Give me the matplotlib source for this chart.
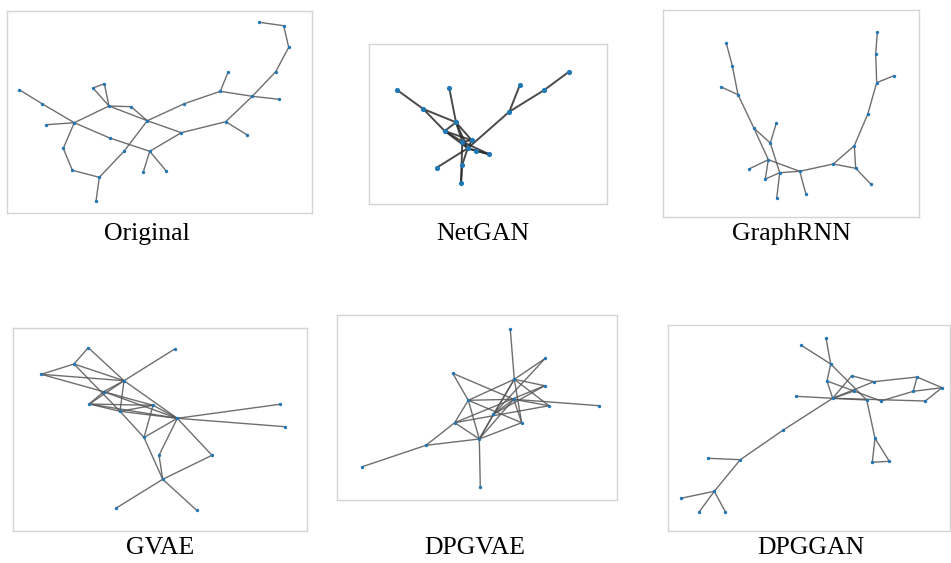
import matplotlib
matplotlib.use("Agg")
import matplotlib.pyplot as plt
from matplotlib.collections import LineCollection

# node positions (image pixel coords) and edge lists
original_nodes = [(259.3, 22.3), (283.7, 25.7), (288.7, 47.3), (275.7, 71.7), (252.3, 96.3),
                  (279, 99.3), (228, 72.3), (220.3, 91.3), (225.7, 121.7), (247.3, 135),
                  (184.3, 103.7), (181.3, 132.7), (147.3, 120.7), (149.7, 151.3), (143.3, 172),
                  (166, 170.7), (124, 151.3), (99.3, 177.3), (96, 201.3), (72.3, 170.3),
                  (63.3, 148.3), (74.3, 122.7), (46.3, 124.7), (42, 103.7), (19.3, 89.7),
                  (109.7, 138), (109, 106), (131, 106.7), (93, 88), (104.3, 83.7)]
original_edges = [(0, 1), (1, 2), (2, 3), (3, 4), (4, 8), (6, 7), (7, 4), (4, 5), (8, 9), (8, 11),
                  (11, 13), (13, 14), (13, 15), (7, 10), (10, 12), (12, 16), (16, 17), (17, 18),
                  (17, 19), (19, 20), (20, 21), (21, 22), (21, 23), (23, 24), (21, 25), (25, 13),
                  (21, 26), (26, 27), (27, 12), (26, 12), (12, 11), (28, 29), (28, 26), (29, 26)]

netgan_nodes = [(396.7, 89.7), (423.3, 109), (449.3, 88.3), (456, 122.3), (444.7, 131),
                (462.3, 141.7), (471.7, 140.3), (467.7, 148.3), (475.7, 150.7), (489.3, 154.3),
                (436.7, 167.7), (462.3, 164.7), (461, 182.7), (509.3, 111.7), (520, 84.7),
                (544.3, 90), (569, 71.7)]
netgan_edges = [(0, 1), (1, 3), (1, 4), (2, 3), (3, 4), (3, 5), (3, 6), (3, 7), (4, 5), (4, 7),
                (4, 6), (5, 6), (5, 7), (6, 7), (7, 8), (8, 9), (7, 9), (5, 9), (10, 7), (11, 7),
                (11, 12), (12, 5), (13, 7), (13, 14), (13, 15), (15, 16)]

graphrnn_nodes = [(726.3, 43.3), (732.3, 65.7), (721.3, 87), (738, 94.7), (754, 128.3),
                  (776.3, 123.3), (770.3, 143), (768.3, 159.7), (749, 169), (765.3, 179),
                  (779.7, 172.7), (776.7, 198.3), (799.7, 171.3), (806, 194.3), (833.3, 164),
                  (854.3, 145.7), (855.7, 168.3), (870.7, 184), (867.7, 114.3), (876.7, 82.7),
                  (894, 75.7), (875.7, 54), (877.3, 32)]
graphrnn_edges = [(0, 1), (1, 3), (2, 3), (3, 4), (4, 6), (4, 7), (5, 6), (6, 10), (7, 8), (7, 9),
                  (7, 12), (9, 10), (10, 12), (10, 11), (12, 13), (12, 14), (14, 15), (14, 16),
                  (15, 16), (16, 17), (15, 18), (18, 19), (19, 20), (19, 21), (21, 22)]

gvae_nodes = [(88.3, 347.7), (74, 364), (41.3, 374.3), (124, 380.7), (174.7, 349),
              (103.7, 391.7), (89.3, 404), (120, 411.3), (153, 405.3), (177.3, 418.3),
              (279.7, 404.3), (285, 426.7), (144, 437.5), (159, 455.3), (212, 455.3),
              (162.7, 479.3), (116.3, 508), (196.7, 510.3)]
gvae_edges = [(0, 1), (0, 3), (1, 2), (1, 3), (1, 7), (7, 12), (2, 3), (2, 5), (5, 8), (5, 9),
              (3, 4), (3, 5), (3, 6), (3, 7), (3, 9), (6, 8), (6, 9), (6, 7), (7, 8), (7, 9),
              (8, 9), (8, 12), (9, 12), (5, 6), (9, 10), (9, 11), (9, 14), (9, 13), (13, 15),
              (12, 15), (14, 15), (15, 16), (15, 17)]

dpgvae_nodes = [(510.3, 329.3), (545.3, 358.3), (452.7, 373.3), (514.3, 379.3), (544.7, 385.7),
                (513.7, 399.3), (549, 405.7), (599.3, 405.7), (468.3, 400.3), (493.3, 414.3),
                (521.7, 422.7), (454.7, 422.7), (479.3, 439), (426, 445.3), (362.3, 466.7),
                (480.3, 487.3)]
dpgvae_edges = [(0, 3), (3, 10), (2, 8), (2, 5), (1, 3), (1, 9), (3, 4), (3, 6), (3, 8),
                (3, 12), (3, 9), (4, 9), (4, 11), (5, 6), (5, 7), (5, 8), (5, 9), (5, 12),
                (5, 10), (8, 10), (8, 12), (8, 11), (9, 12), (11, 6), (11, 12), (11, 13),
                (12, 13), (12, 10), (12, 15), (13, 14)]

dpggan_nodes = [(826, 338), (801.3, 345.3), (830.7, 364), (827, 381), (851.7, 375.7),
                (873.7, 381.7), (854.3, 391), (796, 396.3), (832.7, 398.3), (866.7, 400),
                (881, 401), (917, 377), (913.3, 391.3), (942, 387.7), (925.3, 401),
                (875, 438.3), (872.3, 462.3), (889.3, 461.3), (783.3, 430), (740.3, 459.7),
                (708.3, 458.3), (714.3, 491.3), (680.7, 498.3), (699.3, 511.7), (725.3, 511.7)]
dpggan_edges = [(0, 2), (1, 2), (2, 3), (3, 8), (2, 9), (3, 10), (4, 5), (4, 8), (5, 8),
                (6, 8), (5, 11), (7, 8), (8, 9), (8, 14), (9, 15), (15, 16), (15, 17), (16, 17),
                (10, 12), (11, 12), (11, 13), (12, 13), (13, 14), (8, 18), (18, 19), (19, 20),
                (19, 21), (21, 22), (21, 23), (21, 24)]

titles = ["Original", "NetGAN", "GraphRNN", "GVAE", "DPGVAE", "DPGGAN"]

W, H = 951, 563
fig = plt.figure(figsize=(W / 100, H / 100), dpi=100)
fig.patch.set_facecolor("white")

# frame boxes (x0, y0, x1, y1) in pixels and label centres
boxes = [(7.3, 11, 312.3, 213), (369.3, 44.3, 606.7, 204), (663.3, 10, 919, 217),
         (13.3, 328.3, 307.3, 531), (337.3, 315, 617.3, 500), (668.3, 325.3, 950, 531.3)]
label_pos = [(147, 234), (483, 234), (791, 234), (160, 548), (475, 548), (811, 548)]
graphs = [(original_nodes, original_edges), (netgan_nodes, netgan_edges),
          (graphrnn_nodes, graphrnn_edges), (gvae_nodes, gvae_edges),
          (dpgvae_nodes, dpgvae_edges), (dpggan_nodes, dpggan_edges)]

for k, ((nodes, edges), (x0, y0, x1, y1)) in enumerate(zip(graphs, boxes)):
    ax = fig.add_axes([x0 / W, 1 - y1 / H, (x1 - x0) / W, (y1 - y0) / H])
    ax.set_xlim(x0, x1)
    ax.set_ylim(y1, y0)
    ax.set_xticks([])
    ax.set_yticks([])
    for s in ax.spines.values():
        s.set_color("#d4d4d4")
        s.set_linewidth(1.0)
    segs = [(nodes[a], nodes[b]) for a, b in edges]
    big = (k == 1)
    lc = LineCollection(segs, colors="#2a2a2a" if big else "#555555",
                        linewidths=1.4 if big else 1.0, alpha=0.85, zorder=1)
    ax.add_collection(lc)
    xs = [p[0] for p in nodes]
    ys = [p[1] for p in nodes]
    ax.scatter(xs, ys, s=14 if big else 6, color="#1f77b4", zorder=2, linewidths=0)

for t, (lx, ly) in zip(titles, label_pos):
    fig.text(lx / W, 1 - ly / H, t, ha="center", va="center",
             family="Liberation Serif", fontsize=18.5)

fig.savefig("out.png", dpi=100)
